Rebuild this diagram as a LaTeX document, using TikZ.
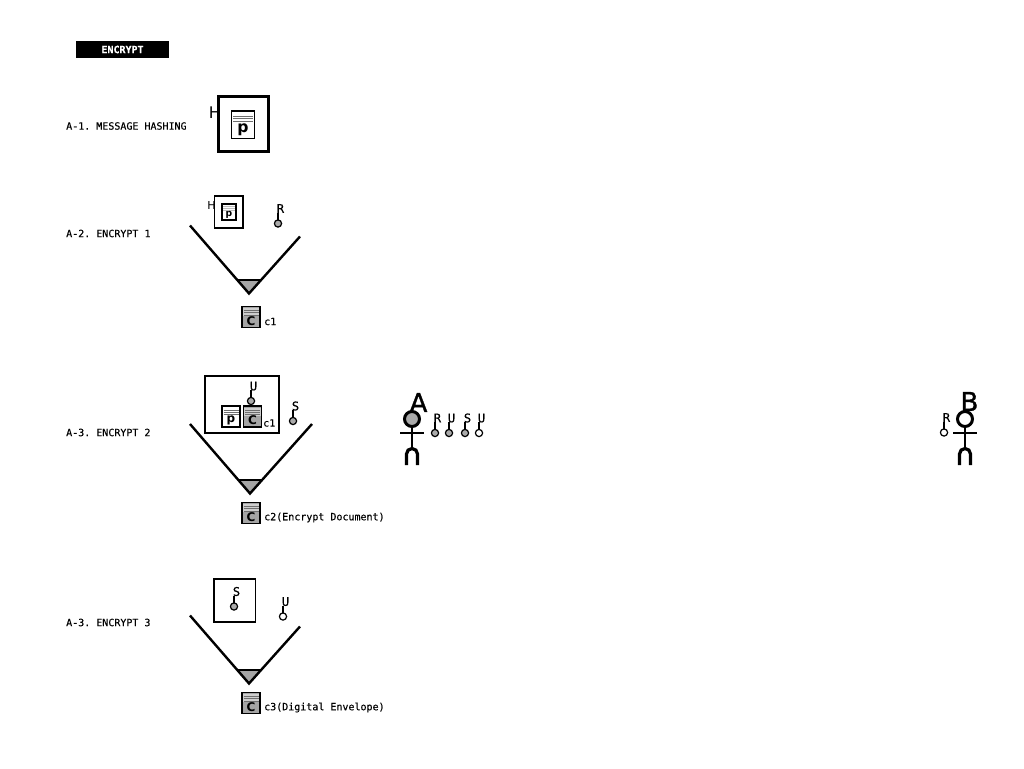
\documentclass[tikz,border=0pt]{standalone}
\usepackage{fontspec}
\setmainfont{DejaVu Sans}
\newfontfamily\monofont[FakeBold=0.25]{DejaVu Sans Mono}
\newfontfamily\keyfont[FakeBold=0.6]{DejaVu Sans Mono}
\newfontfamily\manfont[FakeBold=1.2]{DejaVu Sans}
\usetikzlibrary{calc,positioning}
\definecolor{xKey}{RGB}{170,170,170}
\definecolor{xDoc}{RGB}{165,165,165}
\definecolor{xRule}{RGB}{110,110,110}
\definecolor{xSoft}{RGB}{190,190,190}
\frenchspacing
\tikzset{
  steplabel/.style={font=\monofont\fontsize{10}{12}\selectfont,anchor=west,inner sep=0pt},
  keyletter/.style={font=\keyfont\fontsize{12}{12}\selectfont,inner sep=0pt},
  docletter/.style={font=\bfseries\fontsize{12}{12}\selectfont,inner sep=0pt},
  hletter/.style={font=\fontsize{#1}{#1}\selectfont,inner sep=0pt},
  manletter/.style={font=\manfont\fontsize{26}{26}\selectfont,inner sep=0pt},
  pics/keyicon/.style 2 args={code={
    \draw[line width=1.2pt,fill=#2] (0,0) circle (3.6);
    \draw[line width=1.2pt] (0,-4) -- (0,-11);
    \node[keyletter] (keyname) at (2.5,-15) {#1};
  }},
  pics/docicon/.style n args={3}{code={
    \fill[#1] (-9,-10.5) rectangle (9,10.5);
    \fill[#1!55!white] (-9,-9) rectangle (9,-0.8);
    \foreach \y in {-6.5,-4.3,-2} {
      \draw[line width=1pt,#2] (-7.5,\y) -- (7.5,\y);
    }
    \draw[line width=1.3pt] (-9,-10.5) rectangle (9,10.5);
    \node[docletter,transform shape] (docname) at (0,3.8) {#3};
  }},
  pics/funnel/.style 2 args={code={
    \fill[xDoc] (-11,-14) -- (11,-14) -- (0,0) -- cycle;
    \draw[line width=2pt] (-11,-14) -- (11,-14);
    \draw[line width=2.4pt] #1 -- (0,0) -- #2;
  }},
  pics/person/.style={code={
    \draw[line width=3pt,fill=#1] (0,0) circle (7.5);
    \draw[line width=2.5pt] (0,9) -- (0,29);
    \draw[line width=2pt] (-12,14) -- (12,14);
    \draw[line width=3.2pt] (-5.5,46) -- (-5.5,35) arc (180:360:5.5) -- (5.5,46);
  }},
}
\begin{document}
\begin{tikzpicture}[x=1pt,y=-1pt]
  \useasboundingbox (0,0) rectangle (1024,768);

  % title bar
  \fill[black] (76,41) rectangle (169,58);
  \node[font=\monofont\bfseries\fontsize{10}{12}\selectfont,text=white,inner sep=0pt] (title) at (122.5,49.5) {ENCRYPT};

  % step labels
  \node[steplabel] (stepA) at (66,126) {A-1. MESSAGE HASHING};
  \node[steplabel] (stepB) at (66,233.5) {A-2. ENCRYPT 1};
  \node[steplabel] (stepC) at (66,432.5) {A-3. ENCRYPT 2};
  \node[steplabel] (stepD) at (66,622.5) {A-3. ENCRYPT 3};

  % A-1
  \draw[line width=3pt] (218.5,96.5) rectangle (268.5,151);
  \pic[scale=1.3,transform shape] at (243,124.5) {docicon={white}{xRule}{p}};
  \node[hletter=16] (hashA) at (215,113) {H};

  % A-2
  \draw[line width=1.5pt] (214.5,196) rectangle (243,228);
  \pic[scale=0.77,transform shape] at (229,212) {docicon={white}{xSoft}{p}};
  \node[hletter=11] (hashB) at (211.5,205) {H};
  \pic at (278,223.5) {keyicon={R}{xKey}};
  \pic at (249,293.5) {funnel={(-59,-68)}{(51,-57)}};
  \pic at (251,317) {docicon={xDoc}{xRule}{C}};
  \node[steplabel] (cipherA) at (264,321.5) {c1};

  % A-3 first
  \draw[line width=1.3pt] (205,376) rectangle (279,433);
  \pic at (251,401) {keyicon={U}{xKey}};
  \pic at (231,416.5) {docicon={white}{xRule}{p}};
  \pic at (252.5,416.5) {docicon={xDoc}{xRule}{C}};
  \node[steplabel] (cipherB) at (263,423) {c1};
  \pic at (293,421) {keyicon={S}{xKey}};
  \pic at (250,493.5) {funnel={(-60,-69.5)}{(62,-69.5)}};
  \pic at (251,513) {docicon={xDoc}{xRule}{C}};
  \node[steplabel] (cipherC) at (264,517.5) {c2(Encrypt Document)};

  % A-3 second
  \draw[line width=1.3pt] (214,579) rectangle (255.5,622);
  \pic at (234,606.5) {keyicon={S}{xKey}};
  \pic at (283,616.5) {keyicon={U}{white}};
  \pic at (249,683.5) {funnel={(-59,-68)}{(51,-57)}};
  \pic at (251,703) {docicon={xDoc}{xRule}{C}};
  \node[steplabel] (cipherD) at (264,707.5) {c3(Digital Envelope)};

  % people with their keys
  \pic at (412,419) {person=xKey};
  \node[manletter] (nameA) at (418.5,402.5) {A};
  \pic at (435,433) {keyicon={R}{xKey}};
  \pic at (449,433) {keyicon={U}{xKey}};
  \pic at (465,433) {keyicon={S}{xKey}};
  \pic at (479,433) {keyicon={U}{white}};
  \pic at (965,419) {person=white};
  \node[manletter] (nameB) at (969.5,401.5) {B};
  \pic at (944,432.5) {keyicon={R}{white}};
\end{tikzpicture}
\end{document}
